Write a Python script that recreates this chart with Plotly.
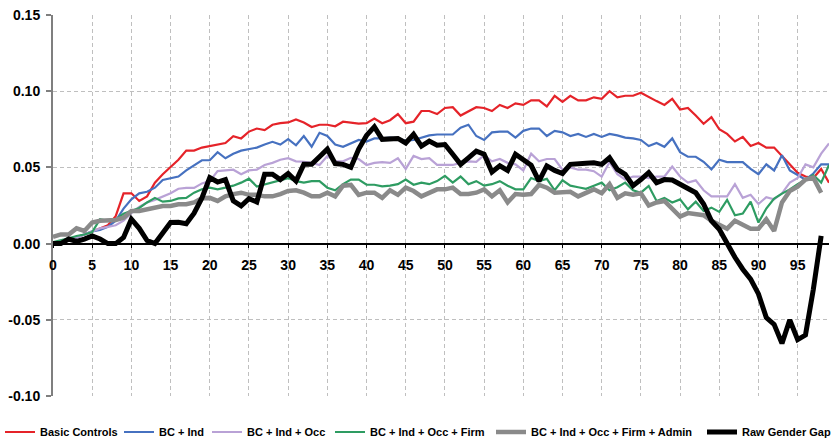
import plotly.graph_objects as go

# Percentile positions along the horizontal axis
percentile = list(range(100))

basic_controls = [
    0.000, 0.001, 0.0025, 0.004, 0.006, 0.008, 0.010, 0.012, 0.018, 0.033,
    0.033, 0.028, 0.031, 0.040, 0.0455, 0.050, 0.055, 0.061, 0.061, 0.063,
    0.064, 0.065, 0.066, 0.0705, 0.069, 0.0735, 0.0755, 0.0745, 0.078, 0.079,
    0.0795, 0.0815, 0.0795, 0.0765, 0.078, 0.078, 0.077, 0.080, 0.0795, 0.0787,
    0.079, 0.082, 0.079, 0.081, 0.085, 0.079, 0.080, 0.087, 0.087, 0.085,
    0.089, 0.0895, 0.084, 0.087, 0.0895, 0.089, 0.087, 0.091, 0.089, 0.092,
    0.091, 0.094, 0.094, 0.090, 0.097, 0.093, 0.097, 0.094, 0.094, 0.096,
    0.095, 0.100, 0.096, 0.097, 0.097, 0.099, 0.096, 0.0935, 0.091, 0.095,
    0.088, 0.089, 0.084, 0.0786, 0.083, 0.075, 0.072, 0.067, 0.070, 0.064,
    0.066, 0.063, 0.063, 0.0575, 0.052, 0.0465, 0.044, 0.043, 0.049, 0.040,
]

bc_ind = [
    0.000, 0.001, 0.002, 0.004, 0.006, 0.008, 0.009, 0.011, 0.015, 0.023,
    0.029, 0.033, 0.034, 0.0367, 0.0417, 0.043, 0.044, 0.048, 0.0515, 0.0547,
    0.0547, 0.060, 0.056, 0.059, 0.061, 0.062, 0.063, 0.065, 0.0668, 0.065,
    0.0685, 0.0645, 0.0706, 0.0636, 0.0727, 0.0706, 0.065, 0.0635, 0.066, 0.068,
    0.067, 0.069, 0.069, 0.0695, 0.069, 0.0675, 0.068, 0.0695, 0.071, 0.0716,
    0.0716, 0.0716, 0.076, 0.078, 0.0706, 0.068, 0.073, 0.0735, 0.0735, 0.0695,
    0.074, 0.0755, 0.0755, 0.0706, 0.074, 0.073, 0.0706, 0.072, 0.070, 0.072,
    0.070, 0.072, 0.071, 0.0695, 0.069, 0.068, 0.064, 0.066, 0.0635, 0.069,
    0.060, 0.057, 0.057, 0.0537, 0.0487, 0.055, 0.0535, 0.0535, 0.0535, 0.049,
    0.0455, 0.052, 0.048, 0.058, 0.048, 0.045, 0.042, 0.046, 0.052, 0.052,
]

bc_ind_occ = [
    0.000, 0.001, 0.0024, 0.004, 0.006, 0.008, 0.010, 0.011, 0.012, 0.015,
    0.020, 0.024, 0.027, 0.0287, 0.031, 0.033, 0.036, 0.0365, 0.0365, 0.0395,
    0.041, 0.0476, 0.048, 0.0485, 0.0455, 0.048, 0.0485, 0.0516, 0.053, 0.055,
    0.056, 0.054, 0.0537, 0.053, 0.0516, 0.0575, 0.054, 0.054, 0.0563, 0.0555,
    0.0516, 0.053, 0.0535, 0.053, 0.056, 0.049, 0.0575, 0.0555, 0.056, 0.0516,
    0.0516, 0.0516, 0.053, 0.054, 0.0537, 0.058, 0.054, 0.0555, 0.053, 0.052,
    0.048, 0.059, 0.054, 0.0555, 0.0555, 0.0485, 0.050, 0.0485, 0.0485, 0.0475,
    0.044, 0.0535, 0.0455, 0.042, 0.044, 0.044, 0.043, 0.044, 0.044, 0.0505,
    0.044, 0.040, 0.0415, 0.035, 0.031, 0.031, 0.031, 0.039, 0.030, 0.032,
    0.026, 0.0305, 0.029, 0.033, 0.040, 0.043, 0.052, 0.050, 0.059, 0.0657,
]

bc_ind_occ_firm = [
    0.001, 0.002, 0.0035, 0.005, 0.006, 0.0075, 0.016, 0.015, 0.0157, 0.0196,
    0.0214, 0.0234, 0.027, 0.030, 0.0275, 0.028, 0.0297, 0.030, 0.0334, 0.0356,
    0.0367, 0.0356, 0.0367, 0.038, 0.040, 0.0426, 0.0375, 0.039, 0.040, 0.0415,
    0.043, 0.041, 0.040, 0.041, 0.041, 0.0367, 0.035, 0.039, 0.042, 0.042,
    0.0386, 0.0386, 0.0375, 0.038, 0.039, 0.042, 0.0386, 0.040, 0.039, 0.041,
    0.0444, 0.040, 0.044, 0.039, 0.041, 0.038, 0.039, 0.041, 0.038, 0.0356,
    0.0356, 0.043, 0.041, 0.0425, 0.035, 0.0415, 0.038, 0.037, 0.036, 0.038,
    0.040, 0.035, 0.037, 0.040, 0.035, 0.0334, 0.0378, 0.028, 0.030, 0.027,
    0.029, 0.0225, 0.0275, 0.0214, 0.0236, 0.0208, 0.0287, 0.0186, 0.0197, 0.0275,
    0.0138, 0.023, 0.0295, 0.0328, 0.0356, 0.039, 0.042, 0.045, 0.040, 0.0516,
]

bc_ind_occ_firm_admin = [
    0.0044, 0.006, 0.006, 0.010, 0.0083, 0.0138, 0.015, 0.015, 0.0155, 0.017,
    0.0214, 0.0214, 0.0225, 0.0236, 0.0247, 0.0247, 0.0258, 0.0258, 0.027, 0.0297,
    0.030, 0.028, 0.031, 0.0325, 0.0334, 0.032, 0.032, 0.031, 0.031, 0.0325,
    0.0345, 0.035, 0.0334, 0.031, 0.031, 0.0334, 0.031, 0.038, 0.0385, 0.032,
    0.0334, 0.0334, 0.030, 0.035, 0.032, 0.0367, 0.0345, 0.031, 0.0334, 0.0356,
    0.0356, 0.0367, 0.0325, 0.0325, 0.0334, 0.0356, 0.031, 0.035, 0.027, 0.0325,
    0.032, 0.0325, 0.0385, 0.0367, 0.0334, 0.034, 0.034, 0.031, 0.033, 0.0356,
    0.033, 0.039, 0.030, 0.033, 0.032, 0.033, 0.025, 0.027, 0.028, 0.0225,
    0.0177, 0.020, 0.019, 0.0186, 0.015, 0.012, 0.0098, 0.015, 0.0127, 0.0098,
    0.0098, 0.016, 0.0083, 0.027, 0.0345, 0.0373, 0.042, 0.0433, 0.0334,
]

raw_gender_gap = [
    0.000, 0.000, 0.003, 0.0015, 0.003, 0.005, 0.003, 0.000, 0.000, 0.004,
    0.016, 0.010, 0.002, 0.000, 0.007, 0.0138, 0.014, 0.013, 0.020, 0.030,
    0.0433, 0.0404, 0.042, 0.028, 0.0247, 0.0295, 0.0273, 0.0455, 0.0455, 0.042,
    0.046, 0.041, 0.052, 0.052, 0.057, 0.062, 0.0525, 0.052, 0.050, 0.062,
    0.071, 0.0766, 0.0684, 0.069, 0.069, 0.066, 0.0717, 0.064, 0.0673, 0.0645,
    0.065, 0.0586, 0.052, 0.0563, 0.0607, 0.0586, 0.047, 0.051, 0.048, 0.0586,
    0.0546, 0.0514, 0.041, 0.051, 0.048, 0.046, 0.052, 0.052, 0.0527, 0.053,
    0.052, 0.0563, 0.0487, 0.0455, 0.038, 0.042, 0.0465, 0.040, 0.042, 0.0417,
    0.039, 0.0367, 0.0334, 0.026, 0.015, 0.0094, -0.0004, -0.009, -0.0168, -0.0233,
    -0.033, -0.0485, -0.053, -0.0655, -0.050, -0.063, -0.060, -0.030, 0.005,
]

series_names = [
    "Basic Controls",
    "BC + Ind",
    "BC + Ind + Occ",
    "BC + Ind + Occ + Firm",
    "BC + Ind + Occ + Firm + Admin",
    "Raw Gender Gap",
]

x_tick_values = list(range(0, 100, 5))
y_tick_values = [-0.10, -0.05, 0.00, 0.05, 0.10, 0.15]
y_tick_labels = ["-0.10", "-0.05", "0.00", "0.05", "0.10", "0.15"]

# Styling
W, H = 835, 442
M_L, M_R, M_T, M_B = 53, 6, 15, 46
PLOT_W = W - M_L - M_R
PLOT_H = H - M_T - M_B
FONT = "Liberation Sans, Arial, sans-serif"
colors = ["#E52329", "#4671C0", "#B9A2D6", "#2E9C62", "#8A8A8A", "#000000"]
widths = [2.2, 2.2, 2.2, 2.2, 4.5, 5]
legend_left_px = [0, 119, 207, 330, 491, 702]
legend_mid_px = 432

all_values = [basic_controls, bc_ind, bc_ind_occ, bc_ind_occ_firm,
              bc_ind_occ_firm_admin, raw_gender_gap]

fig = go.Figure()
legend_layout = {}
for k, (name, vals) in enumerate(zip(series_names, all_values)):
    key = "legend" if k == 0 else f"legend{k + 1}"
    fig.add_trace(go.Scatter(
        x=percentile[:len(vals)], y=vals, mode="lines", name=name,
        line=dict(color=colors[k], width=widths[k]),
        legend=key,
    ))
    # one legend per series, placed in paper coordinates below the plot
    legend_layout[key] = dict(
        xref="paper", yref="paper",
        x=(legend_left_px[k] - M_L) / PLOT_W,
        y=(H - M_B - legend_mid_px) / PLOT_H,
        xanchor="left", yanchor="middle",
        orientation="h", itemwidth=30,
        bgcolor="rgba(0,0,0,0)", borderwidth=0,
        font=dict(family=FONT, size=11, color="black", weight="bold"),
    )

grid_color = "#BFBFBF"
fig.update_layout(
    width=W, height=H,
    margin=dict(l=M_L, r=M_R, t=M_T, b=M_B, autoexpand=False),
    paper_bgcolor="white", plot_bgcolor="white",
    showlegend=True,
    **legend_layout,
    xaxis=dict(
        range=[0, 99], anchor="free", position=0.4,
        tickmode="array", tickvals=x_tick_values,
        showline=True, linecolor="black", linewidth=1.5,
        ticks="outside", ticklen=4, tickcolor="black", tickwidth=1,
        showgrid=True, gridcolor=grid_color, gridwidth=1, griddash="4px,3px",
        zeroline=False, ticklabelstandoff=5,
        tickfont=dict(family=FONT, size=14, color="black", weight="bold"),
    ),
    yaxis=dict(
        range=[-0.10, 0.15], domain=[0, 1],
        tickmode="array", tickvals=y_tick_values, ticktext=y_tick_labels,
        showline=True, linecolor="#7F7F7F", linewidth=2,
        ticks="outside", ticklen=5, tickcolor="#7F7F7F", tickwidth=1.5,
        showgrid=True, gridcolor=grid_color, gridwidth=1, griddash="4px,3px",
        zeroline=False, ticklabelstandoff=3,
        tickfont=dict(family=FONT, size=14, color="black", weight="bold"),
    ),
)

fig.write_html("out.html")
